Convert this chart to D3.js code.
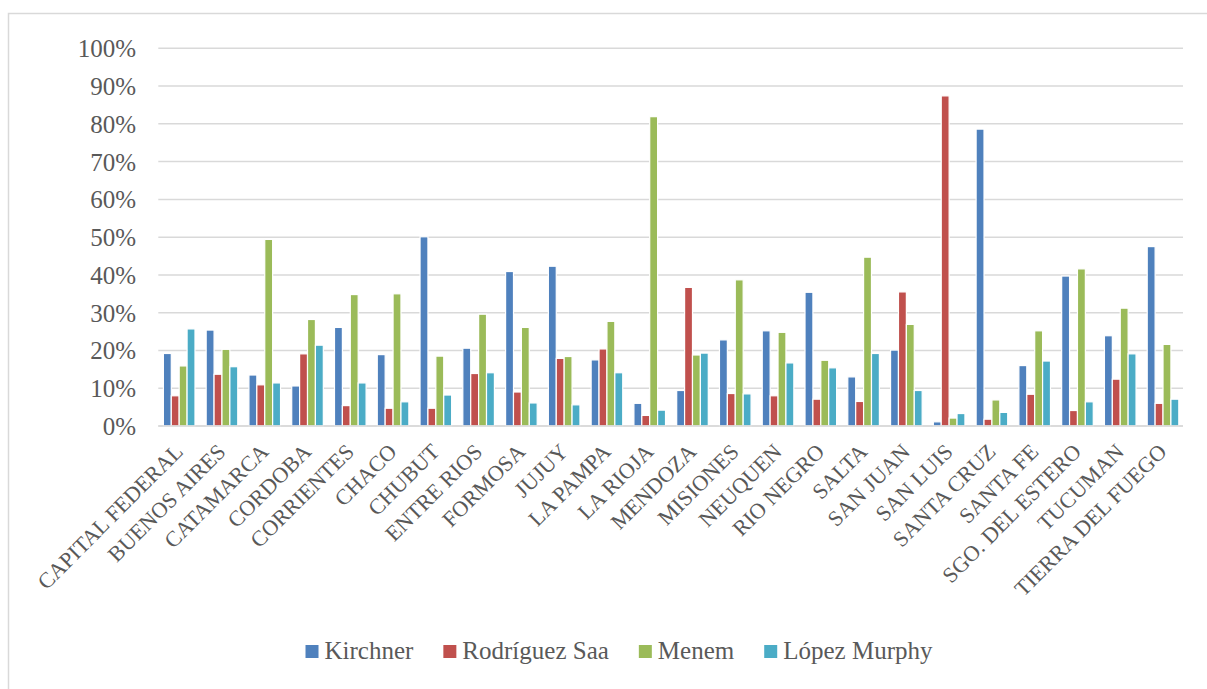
<!DOCTYPE html>
<html>
<head>
<meta charset="utf-8">
<script src="https://cdn.jsdelivr.net/npm/d3@7/dist/d3.min.js"></script>
<style>
  html, body { margin: 0; padding: 0; background: #fff; }
  svg { display: block; }
  text { font-family: "Liberation Serif", "Times New Roman", serif; fill: #595959; }
</style>
</head>
<body>
<svg id="chart" width="1207" height="689"></svg>
<script>
const categories = ["CAPITAL FEDERAL", "BUENOS AIRES", "CATAMARCA", "CORDOBA", "CORRIENTES", "CHACO", "CHUBUT", "ENTRE RIOS", "FORMOSA", "JUJUY", "LA PAMPA", "LA RIOJA", "MENDOZA", "MISIONES", "NEUQUEN", "RIO NEGRO", "SALTA", "SAN JUAN", "SAN LUIS", "SANTA CRUZ", "SANTA FE", "SGO. DEL ESTERO", "TUCUMAN", "TIERRA DEL FUEGO"];
const seriesNames = ["Kirchner", "Rodríguez Saa", "Menem", "López Murphy"];
const kirchner    = [19.2, 25.4, 13.5, 10.6, 26.1, 18.9, 50.1, 20.6, 40.9, 42.3, 17.5, 6.0, 9.4, 22.8, 25.2, 35.4, 13.0, 20.1, 1.1, 78.6, 16.0, 39.7, 23.9, 47.5];
const rodriguezSaa = [8.0, 13.7, 10.9, 19.1, 5.4, 4.7, 4.7, 13.9, 9.0, 17.9, 20.4, 2.8, 36.7, 8.6, 8.0, 7.1, 6.5, 35.5, 87.4, 1.8, 8.4, 4.1, 12.4, 6.0];
const menem       = [15.9, 20.3, 49.4, 28.2, 34.8, 35.0, 18.5, 29.6, 26.1, 18.4, 27.7, 81.9, 18.8, 38.7, 24.8, 17.4, 44.7, 26.9, 2.1, 6.9, 25.2, 41.6, 31.2, 21.6];
const lopezMurphy = [25.7, 15.7, 11.4, 21.4, 11.4, 6.4, 8.2, 14.1, 6.1, 5.6, 14.1, 4.2, 19.3, 8.5, 16.7, 15.4, 19.2, 9.4, 3.3, 3.6, 17.2, 6.4, 19.1, 7.1];
const yTicks = [0, 10, 20, 30, 40, 50, 60, 70, 80, 90, 100];
const colors = ["#4F81BD", "#C0504D", "#9BBB59", "#4BACC6"];

const seriesValues = [kirchner, rodriguezSaa, menem, lopezMurphy];

const svg = d3.select("#chart");

// chart frame (extends beyond the visible area on the right and bottom)
svg.append("rect")
  .attr("x", 8.5).attr("y", 13.5)
  .attr("width", 1300).attr("height", 800)
  .attr("fill", "none").attr("stroke", "#d9d9d9").attr("stroke-width", 1.5);

const plotLeft = 157.8, plotRight = 1184.4;
const x0 = d3.scaleBand().domain(categories).range([plotLeft, plotRight]).padding(0);
const groupW = 31.6;
const x1 = d3.scaleBand().domain(seriesNames)
  .range([(x0.bandwidth() - groupW) / 2, (x0.bandwidth() + groupW) / 2]).padding(0);
const y = d3.scaleLinear().domain([0, 100]).range([426, 48.3]);

// gridlines
svg.append("g").selectAll("line").data(yTicks).join("line")
  .attr("x1", 158.3).attr("x2", 1183)
  .attr("y1", d => y(d)).attr("y2", d => y(d))
  .attr("stroke", "#d9d9d9").attr("stroke-width", 1.5);

// y axis labels
const yAxis = d3.axisLeft(y).tickValues(yTicks).tickFormat(d => d + "%").tickSize(0).tickPadding(0);
const yg = svg.append("g").attr("transform", "translate(136,0)").call(yAxis);
yg.select(".domain").remove();
yg.selectAll("text")
  .attr("font-family", "Liberation Serif")
  .attr("font-size", 25)
  .attr("fill", "#595959")
  .attr("dy", "0.34em");

// bars
const rows = categories.map((c, i) => ({ cat: c, vals: seriesNames.map((s, j) => ({ s, j, v: seriesValues[j][i] })) }));
const groups = svg.append("g").selectAll("g").data(rows).join("g")
  .attr("transform", d => `translate(${x0(d.cat)},0)`);
groups.selectAll("rect").data(d => d.vals).join("rect")
  .attr("x", d => x1(d.s))
  .attr("width", x1.bandwidth())
  .attr("y", d => y(d.v))
  .attr("height", d => y(0) - y(d.v))
  .attr("fill", d => colors[d.j])
  .attr("stroke", "#ffffff")
  .attr("stroke-width", 1.2);

// baseline axis line
svg.append("line")
  .attr("x1", 158.3).attr("x2", 1183).attr("y1", y(0)).attr("y2", y(0))
  .attr("stroke", "#d9d9d9").attr("stroke-width", 1.5);

// category labels
svg.append("g").selectAll("text").data(categories).join("text")
  .attr("transform", d => `translate(${x0(d) + x0.bandwidth() / 2 + 5},453) rotate(-45)`)
  .attr("text-anchor", "end")
  .attr("font-size", 22)
  .text(d => d);

// legend
const legend = svg.append("g");
const items = legend.selectAll("g").data(seriesNames).join("g");
items.append("rect").attr("width", 13).attr("height", 13).attr("y", 645)
  .attr("fill", (d, i) => colors[i]);
items.append("text").attr("x", 19).attr("y", 659).attr("font-size", 25).text(d => d);
let widths = [];
items.each(function () { widths.push(19 + this.querySelector("text").getComputedTextLength()); });
const gap = 30;
const total = d3.sum(widths) + gap * (widths.length - 1);
let cx = 619 - total / 2;
items.each(function (d, i) {
  d3.select(this).attr("transform", `translate(${cx},0)`);
  cx += widths[i] + gap;
});
</script>
</body>
</html>
